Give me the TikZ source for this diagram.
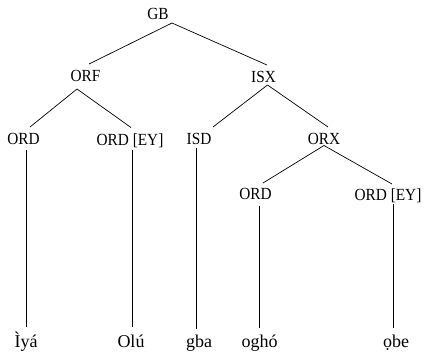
\documentclass[tikz,border=0pt]{standalone}
\usepackage{fontspec}
\setmainfont{Liberation Serif}
\begin{document}
\begin{tikzpicture}[x=1pt,y=-1pt,
  lbl/.style={anchor=base,inner sep=0pt,xscale=0.9,transform shape,font=\fontsize{17}{19}\selectfont},
  leaf/.style={anchor=base,inner sep=0pt,font=\fontsize{18}{20}\selectfont},
  edge/.style={line width=0.7pt,black}]
\useasboundingbox (0,0) rectangle (424,354);
% nodes (text centre x, baseline y)
\node[lbl] (GB) at (158,19) {GB};
\node[lbl] (ORF) at (85.5,81.5) {ORF};
\node[lbl] (ISX) at (263.5,82) {ISX};
\node[lbl] (ORDa) at (23.5,144.5) {ORD};
\node[lbl] (ORDEYa) at (130,145.5) {ORD [EY]};
\node[lbl] (ISD) at (199,144.5) {ISD};
\node[lbl] (ORX) at (324,144.5) {ORX};
\node[lbl] (ORDb) at (255.5,199.5) {ORD};
\node[lbl] (ORDEYb) at (388,200) {ORD [EY]};
\node[leaf] (Lia) at (26,347.5) {Ìyá};
\node[leaf] (Lolu) at (131,347.5) {Olú};
\node[leaf] (Lgba) at (199,347.5) {gba};
\node[leaf] (Logho) at (259.5,347.5) {ogh\'o};
\node[leaf] (Lobe) at (396,347.5) {ọbe};
% connectors
\draw[edge] ([shift={(14,4)}]GB.base) -- ([shift={(3.5,-17.5)}]ORF.base);
\draw[edge] ([shift={(14,4)}]GB.base) -- ([shift={(3.5,-17)}]ISX.base);
\draw[edge] ([shift={(-8.5,7.5)}]ORF.base) -- ([shift={(6.5,-17.5)}]ORDa.base);
\draw[edge] ([shift={(-8.5,7.5)}]ORF.base) -- ([shift={(1,-18)}]ORDEYa.base);
\draw[edge] ([shift={(4,3)}]ISX.base) -- ([shift={(14,-17.5)}]ISD.base);
\draw[edge] ([shift={(4,3)}]ISX.base) -- ([shift={(4,-17.5)}]ORX.base);
\draw[edge] ([shift={(0,1)}]ORX.base) -- ([shift={(7.5,-16.5)}]ORDb.base);
\draw[edge] ([shift={(0,1)}]ORX.base) -- ([shift={(4,-16)}]ORDEYb.base);
\draw[edge] ([shift={(2.5,5.5)}]ORDa.base) -- ([shift={(0,-20.5)}]Lia.base);
\draw[edge] ([shift={(2,4.5)}]ORDEYa.base) -- ([shift={(1,-20.5)}]Lolu.base);
\draw[edge] ([shift={(-3,3.5)}]ISD.base) -- ([shift={(-3,-18.5)}]Lgba.base);
\draw[edge] ([shift={(4,6.5)}]ORDb.base) -- ([shift={(0,-19.5)}]Logho.base);
\draw[edge] ([shift={(5,4)}]ORDEYb.base) -- ([shift={(-3,-19.5)}]Lobe.base);
\end{tikzpicture}
\end{document}
